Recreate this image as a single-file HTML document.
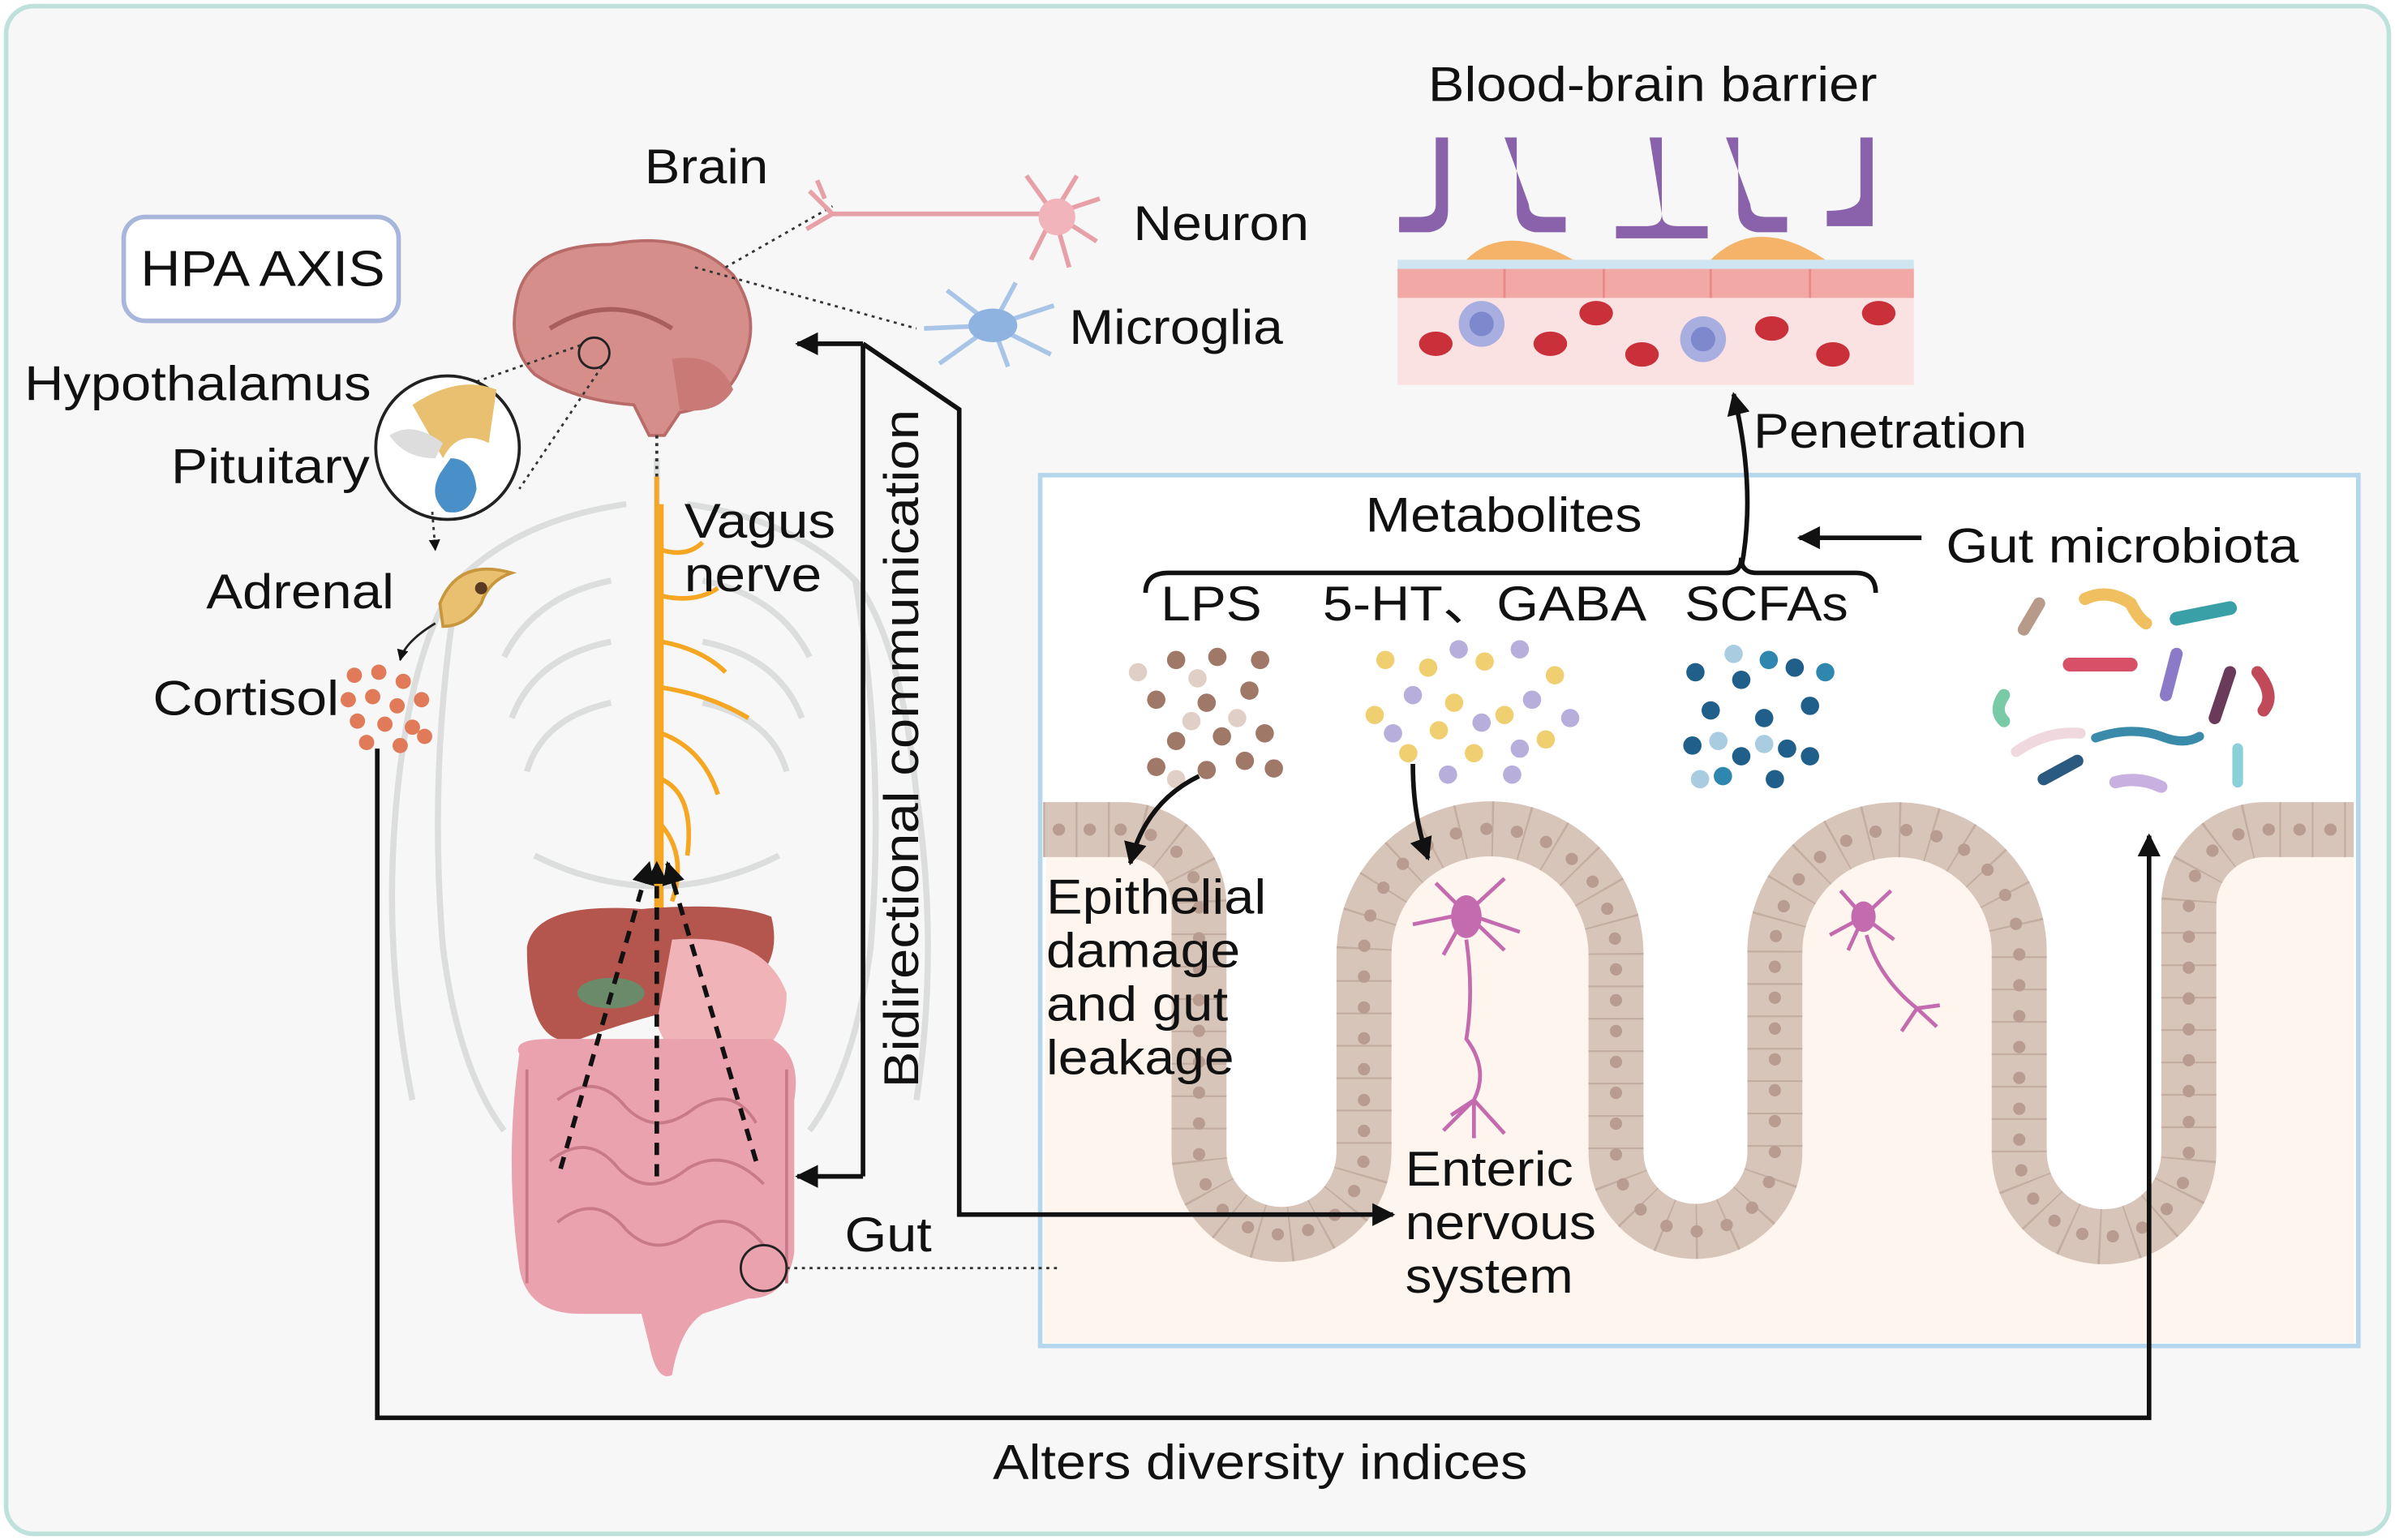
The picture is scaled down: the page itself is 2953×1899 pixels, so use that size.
<!DOCTYPE html>
<html><head><meta charset="utf-8"><style>
html,body{margin:0;padding:0;background:#fff;}
svg{display:block;}
text{font-family:"Liberation Sans",Arial,sans-serif;fill:#111;}
</style></head><body>
<svg width="2953" height="1899" viewBox="0 0 1568 1008" preserveAspectRatio="none" xmlns="http://www.w3.org/2000/svg">
<defs>
<marker id="ah" viewBox="0 0 10 10" refX="9" refY="5" markerWidth="5" markerHeight="5" orient="auto-start-reverse"><path d="M0,0 L10,5 L0,10 z" fill="#111"/></marker>
</defs>
<rect x="4" y="4" width="1560" height="1000" rx="18" fill="#f6f7f6" stroke="#bfe1dc" stroke-width="3"/>

<!-- Gut box (drawn first so connectors appear on top) -->
<rect x="681" y="311" width="863" height="570" fill="#fff" stroke="#b5d7ee" stroke-width="3"/>
<path d="M685,543 H735 A50,50 0 0 1 785,593 V754 A54,54 0 0 0 893,754 V625 A82.5,82.5 0 0 1 1058,625 V754 A52,52 0 0 0 1162,754 V623 A80,80 0 0 1 1322,623 V754 A55.5,55.5 0 0 0 1433,754 V593 A50,50 0 0 1 1483,543 H1541 V879 H683 Z" fill="#fdf5ee"/>
<path d="M683,543 H735 A50,50 0 0 1 785,593 V754 A54,54 0 0 0 893,754 V625 A82.5,82.5 0 0 1 1058,625 V754 A52,52 0 0 0 1162,754 V623 A80,80 0 0 1 1322,623 V754 A55.5,55.5 0 0 0 1433,754 V593 A50,50 0 0 1 1483,543 H1541" fill="none" stroke="#d8c5ba" stroke-width="36"/>
<path d="M683,543 H735 A50,50 0 0 1 785,593 V754 A54,54 0 0 0 893,754 V625 A82.5,82.5 0 0 1 1058,625 V754 A52,52 0 0 0 1162,754 V623 A80,80 0 0 1 1322,623 V754 A55.5,55.5 0 0 0 1433,754 V593 A50,50 0 0 1 1483,543 H1541" fill="none" stroke="#c3ada1" stroke-width="36" stroke-dasharray="1.2,20"/>
<path d="M683,543 H735 A50,50 0 0 1 785,593 V754 A54,54 0 0 0 893,754 V625 A82.5,82.5 0 0 1 1058,625 V754 A52,52 0 0 0 1162,754 V623 A80,80 0 0 1 1322,623 V754 A55.5,55.5 0 0 0 1433,754 V593 A50,50 0 0 1 1483,543 H1541" fill="none" stroke="#b99c90" stroke-width="8" stroke-linecap="round" stroke-dasharray="0.1,20.1" stroke-dashoffset="10"/>

<!-- HPA box -->
<rect x="81" y="142" width="180" height="68" rx="14" fill="#fff" stroke="#a9b6dc" stroke-width="3"/>
<text x="92" y="187" font-size="33" textLength="160" lengthAdjust="spacingAndGlyphs">HPA AXIS</text>

<!-- body skeleton faint -->
<g stroke="#dcdede" stroke-width="4" fill="none">
<path d="M430,300 V600"/>
<path d="M410,330 Q340,340 300,380 Q270,420 260,520"/>
<path d="M450,330 Q520,340 560,380 Q590,420 600,520"/>
<path d="M400,380 Q350,390 330,430 M460,380 Q510,390 530,430"/>
<path d="M400,420 Q350,430 335,470 M460,420 Q510,430 525,470"/>
<path d="M400,460 Q355,470 345,505 M460,460 Q505,470 515,505"/>
<path d="M300,380 Q280,500 290,620 Q300,700 330,740 M560,380 Q580,500 570,620 Q560,700 530,740"/>
<path d="M260,520 Q250,620 270,720 M600,520 Q615,620 600,720"/>
<path d="M350,560 Q430,600 510,560"/>
</g>

<!-- Brain -->
<path d="M340,190 Q350,160 400,160 Q450,150 480,180 Q500,210 485,240 Q475,265 445,270 L435,285 L425,285 L415,265 Q375,262 350,245 Q330,225 340,190 z" fill="#d68e8a" stroke="#b86b68" stroke-width="2"/>
<path d="M440,235 Q470,230 480,255 Q470,272 445,268 z" fill="#c97a77"/>
<path d="M360,215 Q400,190 440,215" stroke="#a85e5b" stroke-width="3" fill="none"/>
<circle cx="389" cy="231" r="10" fill="none" stroke="#222" stroke-width="1.5"/>
<path d="M430,285 V312" stroke="#333" stroke-width="2" stroke-dasharray="2,3"/>
<text x="422" y="120" font-size="32" textLength="81" lengthAdjust="spacingAndGlyphs">Brain</text>

<path d="M475,175 L545,135" stroke="#333" stroke-width="1.5" stroke-dasharray="2,3"/>
<path d="M455,175 L600,215" stroke="#333" stroke-width="1.5" stroke-dasharray="2,3"/>
<!-- Neuron -->
<g stroke="#e8a0a8" stroke-width="3" fill="none">
<path d="M545,140 L690,140"/>
<path d="M545,140 L530,125 M545,140 L528,150 M540,130 L535,118"/>
<path d="M690,140 L705,115 M690,140 L720,130 M690,140 L718,158 M690,140 L700,175 M690,140 L675,170 M690,140 L672,115"/>
</g>
<circle cx="692" cy="142" r="12" fill="#f0b4ba"/>
<text x="742" y="157" font-size="32" textLength="115" lengthAdjust="spacingAndGlyphs">Neuron</text>
<!-- Microglia -->
<g stroke="#a8c4e6" stroke-width="3" fill="none">
<path d="M650,213 L620,190 M650,213 L605,215 M650,213 L615,238 M650,213 L665,185 M650,213 L690,200 M650,213 L688,232 M650,213 L660,240"/>
</g>
<ellipse cx="650" cy="213" rx="16" ry="11" fill="#8fb3e0"/>
<text x="700" y="225" font-size="32" textLength="140" lengthAdjust="spacingAndGlyphs">Microglia</text>

<!-- Hypothalamus circle -->
<path d="M380,226 L260,268 M394,240 L340,320" stroke="#333" stroke-width="1.5" stroke-dasharray="2,3"/>
<circle cx="293" cy="293" r="47" fill="#fff" stroke="#222" stroke-width="2"/>
<path d="M270,265 Q300,245 325,255 L320,290 Q300,280 290,300 Z" fill="#e8c070"/>
<path d="M295,300 Q310,300 312,320 Q308,338 292,335 Q280,325 288,310 z" fill="#4a90c8"/>
<path d="M255,285 Q270,275 290,290 L285,300 Q265,300 255,285z" fill="#ddd"/>
<text x="16" y="262" font-size="32" textLength="227" lengthAdjust="spacingAndGlyphs">Hypothalamus</text>
<text x="112" y="316" font-size="32" textLength="130" lengthAdjust="spacingAndGlyphs">Pituitary</text>
<path d="M283,335 L285,360" stroke="#333" stroke-width="1.5" stroke-dasharray="2,3" marker-end="url(#ah)"/>
<!-- Adrenal -->
<path d="M288,395 Q300,365 335,375 Q320,380 315,395 Q305,410 290,410 z" fill="#e8c070" stroke="#c8963c" stroke-width="2"/>
<circle cx="315" cy="385" r="4" fill="#5a3a20"/>
<text x="135" y="398" font-size="32" textLength="123" lengthAdjust="spacingAndGlyphs">Adrenal</text>
<path d="M285,408 Q265,420 262,432" stroke="#222" stroke-width="1.5" fill="none" marker-end="url(#ah)"/>
<g fill="#e07a58">
<circle cx="232" cy="442" r="5"/><circle cx="248" cy="440" r="5"/><circle cx="264" cy="446" r="5"/><circle cx="228" cy="458" r="5"/><circle cx="244" cy="456" r="5"/><circle cx="260" cy="462" r="5"/><circle cx="276" cy="458" r="5"/><circle cx="234" cy="472" r="5"/><circle cx="252" cy="474" r="5"/><circle cx="270" cy="476" r="5"/><circle cx="240" cy="486" r="5"/><circle cx="262" cy="488" r="5"/><circle cx="278" cy="482" r="5"/>
</g>
<text x="100" y="468" font-size="32" textLength="122" lengthAdjust="spacingAndGlyphs">Cortisol</text>

<!-- Vagus nerve -->
<g stroke="#f5a623" stroke-width="3" fill="none">
<path d="M430,312 V595"/>
<path d="M433,330 V600"/>
<path d="M433,360 Q450,365 460,355 M433,390 Q455,395 470,385 M433,420 Q460,425 475,440 M433,450 Q465,455 490,470 M433,480 Q460,490 470,520 M433,510 Q455,520 450,560 M433,540 Q450,560 440,590"/>
</g>
<text x="448" y="352" font-size="32" textLength="99" lengthAdjust="spacingAndGlyphs">Vagus</text>
<text x="448" y="387" font-size="32" textLength="90" lengthAdjust="spacingAndGlyphs">nerve</text>

<!-- Organs -->
<path d="M345,620 Q350,590 420,595 Q480,590 505,600 Q515,640 470,655 Q420,665 380,680 Q345,690 345,620z" fill="#b4564e"/>
<path d="M440,615 Q500,610 515,650 Q515,690 475,700 Q440,700 430,670z" fill="#efb3b8"/>
<ellipse cx="400" cy="650" rx="22" ry="10" fill="#6b8a6a"/>
<path d="M385,690 Q440,670 490,690 L480,705 Q430,695 390,710z" fill="#f2cf98"/>
<path d="M340,690 Q335,680 360,680 L505,680 Q525,690 520,720 L520,820 Q515,850 490,850 L460,860 Q445,870 440,900 Q430,905 425,880 L420,860 L380,860 Q345,860 340,830 Q330,760 340,690z" fill="#e9a2ae"/>
<g stroke="#c97a88" stroke-width="2" fill="none">
<path d="M365,720 Q390,700 410,725 Q430,745 455,725 Q480,710 495,735"/>
<path d="M360,760 Q385,740 405,765 Q425,785 450,765 Q475,750 500,775"/>
<path d="M365,800 Q390,780 410,805 Q430,825 455,805 Q480,790 500,815"/>
<path d="M345,700 V840 M515,700 V840"/>
</g>
<circle cx="500" cy="830" r="15" fill="none" stroke="#222" stroke-width="1.5"/>
<path d="M515,830 H695" stroke="#333" stroke-width="1.5" stroke-dasharray="2,3"/>
<text x="553" y="819" font-size="32" textLength="57" lengthAdjust="spacingAndGlyphs">Gut</text>
<g stroke="#111" stroke-width="3" stroke-dasharray="8,6" fill="none" marker-end="url(#ah)">
<path d="M367,765 L425,565"/>
<path d="M430,770 L430,565"/>
<path d="M495,760 L437,565"/>
</g>

<!-- BBB -->
<rect x="915" y="88" width="338" height="164" fill="#f6f7f6"/>
<rect x="915" y="175" width="338" height="77" fill="#fbe2e2"/>
<rect x="915" y="175" width="338" height="20" fill="#f2a8a4"/>
<g stroke="#e88a88" stroke-width="1.5"><path d="M985,175 V195 M1050,175 V195 M1120,175 V195 M1185,175 V195"/></g>
<rect x="915" y="170" width="338" height="6" fill="#cfe6f2"/>
<path d="M960,170 Q985,145 1030,170z M1120,170 Q1150,140 1195,170z" fill="#f5b36a"/>
<g fill="#8a62ac">
<path d="M940,90 h8 v48 q0,12 -12,14 h-20 v-10 h14 q10,0 10,-8z"/>
<path d="M985,90 h8 v48 q0,12 12,14 h20 v-10 h-14 q-10,0 -10,-8z"/>
<path d="M1080,90 h8 v50 q0,8 10,8 h20 v8 h-60 v-8 h20 q10,0 10,-8z"/>
<path d="M1130,90 h8 v48 q0,12 12,14 h20 v-10 h-14 q-10,0 -10,-8z"/>
<path d="M1218,90 h8 v58 h-30 v-10 q22,0 22,-10z"/>
</g>
<g fill="#c9303a">
<ellipse cx="940" cy="225" rx="11" ry="8"/><ellipse cx="1015" cy="225" rx="11" ry="8"/><ellipse cx="1045" cy="205" rx="11" ry="8"/><ellipse cx="1075" cy="232" rx="11" ry="8"/><ellipse cx="1160" cy="215" rx="11" ry="8"/><ellipse cx="1200" cy="232" rx="11" ry="8"/><ellipse cx="1230" cy="205" rx="11" ry="8"/>
</g>
<circle cx="970" cy="212" r="15" fill="#a8aee0"/><circle cx="970" cy="212" r="8" fill="#7e88cc"/>
<circle cx="1115" cy="222" r="15" fill="#a8aee0"/><circle cx="1115" cy="222" r="8" fill="#7e88cc"/>
<text x="935" y="66" font-size="32" textLength="294" lengthAdjust="spacingAndGlyphs">Blood-brain barrier</text>

<!-- neurons in villi -->
<g stroke="#c46aae" stroke-width="2.5" fill="none">
<path d="M960,598 L940,578 M960,598 L985,575 M960,598 L925,605 M960,598 L995,610 M960,598 L945,625 M960,598 L985,622"/>
<path d="M960,615 Q965,650 960,680 Q975,700 965,720"/>
<path d="M965,720 L945,740 M965,720 L985,742 M965,720 L965,745 M965,720 L950,730"/>
<path d="M1220,600 L1205,583 M1220,600 L1238,583 M1220,600 L1198,612 M1220,600 L1240,615 M1220,600 L1210,622"/>
<path d="M1222,612 Q1230,640 1255,660 M1255,660 L1245,675 M1255,660 L1268,672 M1255,660 L1270,658"/>
</g>
<ellipse cx="960" cy="600" rx="10" ry="14" fill="#c46aae"/>
<ellipse cx="1220" cy="600" rx="8" ry="10" fill="#c46aae"/>

<text x="894" y="348" font-size="32" textLength="181" lengthAdjust="spacingAndGlyphs">Metabolites</text>
<path d="M750,388 Q750,375 765,375 L1130,375 Q1140,375 1140,365 Q1140,375 1150,375 L1215,375 Q1228,375 1228,388" stroke="#111" stroke-width="3" fill="none"/>
<path d="M1140,372 Q1150,320 1135,258" stroke="#111" stroke-width="3" fill="none" marker-end="url(#ah)"/>
<text x="1148" y="293" font-size="32" textLength="179" lengthAdjust="spacingAndGlyphs">Penetration</text>
<path d="M1258,352 H1178" stroke="#111" stroke-width="3" fill="none" marker-end="url(#ah)"/>
<text x="1274" y="368" font-size="32" textLength="231" lengthAdjust="spacingAndGlyphs">Gut microbiota</text>
<text x="760" y="406" font-size="32" textLength="66" lengthAdjust="spacingAndGlyphs">LPS</text>
<text x="866" y="406" font-size="32" textLength="212" lengthAdjust="spacingAndGlyphs" font-family="Liberation Sans, Noto Sans CJK SC, sans-serif">5-HT、GABA</text>
<text x="1103" y="406" font-size="32" textLength="107" lengthAdjust="spacingAndGlyphs">SCFAs</text>

<g fill="#a07868">
<circle cx="770" cy="432" r="6"/><circle cx="797" cy="430" r="6"/><circle cx="825" cy="432" r="6"/><circle cx="757" cy="458" r="6"/><circle cx="790" cy="460" r="6"/><circle cx="818" cy="452" r="6"/><circle cx="770" cy="485" r="6"/><circle cx="800" cy="482" r="6"/><circle cx="828" cy="480" r="6"/><circle cx="757" cy="502" r="6"/><circle cx="790" cy="504" r="6"/><circle cx="815" cy="498" r="6"/><circle cx="834" cy="503" r="6"/>
</g>
<g fill="#e0cfc7"><circle cx="784" cy="444" r="6"/><circle cx="810" cy="470" r="6"/><circle cx="780" cy="472" r="6"/><circle cx="770" cy="510" r="6"/><circle cx="745" cy="440" r="6"/></g>
<g fill="#f0cf70">
<circle cx="907" cy="432" r="6"/><circle cx="935" cy="437" r="6"/><circle cx="972" cy="433" r="6"/><circle cx="900" cy="468" r="6"/><circle cx="952" cy="460" r="6"/><circle cx="985" cy="468" r="6"/><circle cx="1018" cy="442" r="6"/><circle cx="922" cy="493" r="6"/><circle cx="965" cy="493" r="6"/><circle cx="1012" cy="484" r="6"/><circle cx="942" cy="478" r="6"/>
</g>
<g fill="#b8aedb">
<circle cx="925" cy="455" r="6"/><circle cx="955" cy="425" r="6"/><circle cx="995" cy="425" r="6"/><circle cx="1003" cy="458" r="6"/><circle cx="970" cy="473" r="6"/><circle cx="912" cy="480" r="6"/><circle cx="948" cy="507" r="6"/><circle cx="990" cy="507" r="6"/><circle cx="1028" cy="470" r="6"/><circle cx="995" cy="490" r="6"/>
</g>
<g fill="#1f5f8a">
<circle cx="1110" cy="440" r="6"/><circle cx="1140" cy="445" r="6"/><circle cx="1175" cy="437" r="6"/><circle cx="1120" cy="465" r="6"/><circle cx="1155" cy="470" r="6"/><circle cx="1185" cy="462" r="6"/><circle cx="1108" cy="488" r="6"/><circle cx="1140" cy="495" r="6"/><circle cx="1170" cy="490" r="6"/><circle cx="1162" cy="510" r="6"/><circle cx="1185" cy="495" r="6"/>
</g>
<g fill="#2f86ae"><circle cx="1128" cy="508" r="6"/><circle cx="1158" cy="432" r="6"/><circle cx="1195" cy="440" r="6"/></g>
<g fill="#a9cce0"><circle cx="1135" cy="428" r="6"/><circle cx="1125" cy="485" r="6"/><circle cx="1113" cy="510" r="6"/><circle cx="1155" cy="487" r="6"/></g>

<path d="M785,508 Q750,525 740,565" stroke="#111" stroke-width="3" fill="none" marker-end="url(#ah)"/>
<path d="M925,500 Q925,535 935,562" stroke="#111" stroke-width="3" fill="none" marker-end="url(#ah)"/>
<text font-size="32"><tspan x="685" y="598" textLength="144" lengthAdjust="spacingAndGlyphs">Epithelial</tspan></text>
<text x="685" y="633" font-size="32" textLength="127" lengthAdjust="spacingAndGlyphs">damage</text>
<text x="685" y="668" font-size="32" textLength="119" lengthAdjust="spacingAndGlyphs">and gut</text>
<text x="685" y="703" font-size="32" textLength="123" lengthAdjust="spacingAndGlyphs">leakage</text>
<text x="920" y="776" font-size="32" textLength="110" lengthAdjust="spacingAndGlyphs">Enteric</text>
<text x="920" y="811" font-size="32" textLength="125" lengthAdjust="spacingAndGlyphs">nervous</text>
<text x="920" y="846" font-size="32" textLength="110" lengthAdjust="spacingAndGlyphs">system</text>

<g stroke-linecap="round" fill="none">
<path d="M1335,395 L1325,412" stroke="#b89a8a" stroke-width="8"/>
<path d="M1365,392 Q1380,385 1395,395 Q1400,405 1405,408" stroke="#f0c060" stroke-width="8"/>
<path d="M1425,405 L1460,398" stroke="#3aa0a8" stroke-width="9"/>
<path d="M1355,435 L1395,435" stroke="#d85068" stroke-width="9"/>
<path d="M1425,428 L1418,455" stroke="#8a7ac8" stroke-width="8"/>
<path d="M1460,440 L1450,470" stroke="#6a3a5a" stroke-width="8"/>
<path d="M1478,440 Q1490,455 1482,465" stroke="#c04a5a" stroke-width="8"/>
<path d="M1312,455 Q1305,465 1312,472" stroke="#7acaa8" stroke-width="8"/>
<path d="M1320,492 Q1340,478 1362,480" stroke="#efd8de" stroke-width="7"/>
<path d="M1372,483 Q1395,475 1415,482 Q1430,488 1440,482" stroke="#3a8aaa" stroke-width="6"/>
<path d="M1338,510 L1360,498" stroke="#2a5a80" stroke-width="8"/>
<path d="M1385,512 Q1400,508 1415,515" stroke="#c8b0e0" stroke-width="8"/>
<path d="M1465,490 L1465,512" stroke="#8ad0d8" stroke-width="7"/>
</g>

<!-- Connectors on top -->
<g stroke="#111" stroke-width="3" fill="none">
<path d="M565,225 V770"/>
<path d="M565,225 H522" marker-end="url(#ah)"/>
<path d="M565,770 H522" marker-end="url(#ah)"/>
<path d="M565,225 L628,268 V795 H912" marker-end="url(#ah)"/>
<path d="M247,490 V928 H1407 V547" marker-end="url(#ah)"/>
</g>
<text transform="translate(601,712) rotate(-90)" font-size="32" textLength="444" lengthAdjust="spacingAndGlyphs">Bidirectional communication</text>
<text x="650" y="968" font-size="32" textLength="350" lengthAdjust="spacingAndGlyphs">Alters diversity indices</text>
</svg>
</body></html>
